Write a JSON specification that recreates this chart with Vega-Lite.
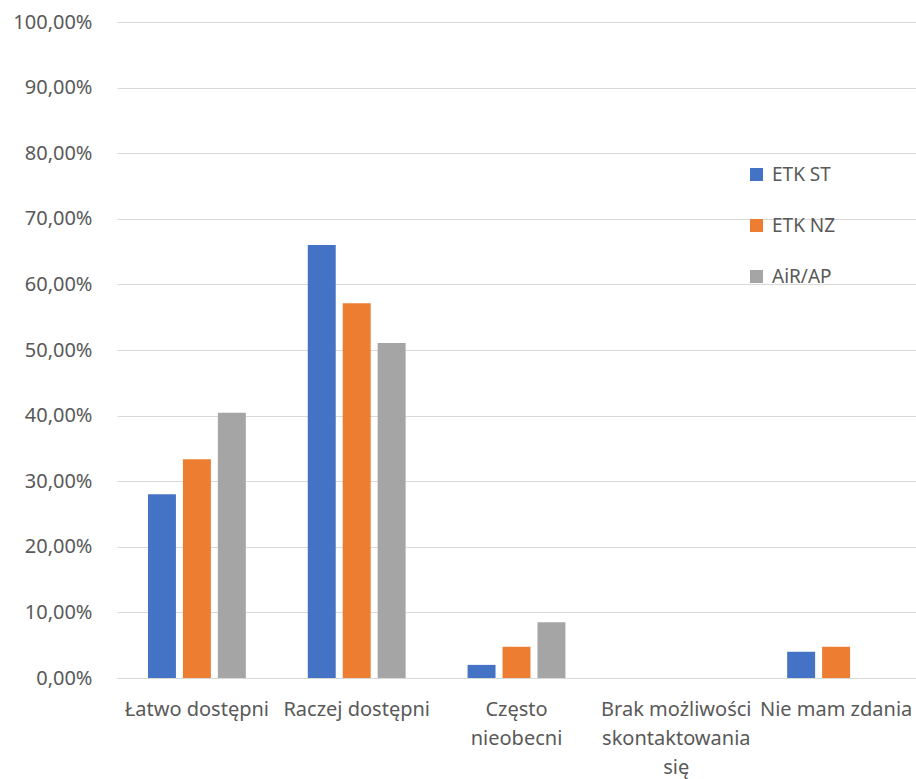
{
  "$schema": "https://vega.github.io/schema/vega-lite/v6.json",
  "width": 799,
  "height": 656,
  "autosize": {"type": "none"},
  "padding": {"left": 117, "top": 22, "right": 0, "bottom": 101},
  "background": "white",
  "data": {
    "values": [
      {"cat": "Łatwo dostępni", "series": "ETK ST", "value": 0.28},
      {"cat": "Łatwo dostępni", "series": "ETK NZ", "value": 0.3333},
      {"cat": "Łatwo dostępni", "series": "AiR/AP", "value": 0.4043},
      {"cat": "Raczej dostępni", "series": "ETK ST", "value": 0.66},
      {"cat": "Raczej dostępni", "series": "ETK NZ", "value": 0.5714},
      {"cat": "Raczej dostępni", "series": "AiR/AP", "value": 0.5106},
      {"cat": "Często nieobecni", "series": "ETK ST", "value": 0.02},
      {"cat": "Często nieobecni", "series": "ETK NZ", "value": 0.0476},
      {"cat": "Często nieobecni", "series": "AiR/AP", "value": 0.0851},
      {"cat": "Brak możliwości skontaktowania się", "series": "ETK ST", "value": 0},
      {"cat": "Brak możliwości skontaktowania się", "series": "ETK NZ", "value": 0},
      {"cat": "Brak możliwości skontaktowania się", "series": "AiR/AP", "value": 0},
      {"cat": "Nie mam zdania", "series": "ETK ST", "value": 0.04},
      {"cat": "Nie mam zdania", "series": "ETK NZ", "value": 0.0476},
      {"cat": "Nie mam zdania", "series": "AiR/AP", "value": 0}
    ]
  },
  "mark": {"type": "bar"},
  "encoding": {
    "x": {
      "field": "cat",
      "type": "nominal",
      "sort": null,
      "scale": {"paddingInner": 0, "paddingOuter": 0},
      "axis": {
        "title": null,
        "labelAngle": 0,
        "labelFont": "Noto Sans",
        "labelFontSize": 20,
        "labelColor": "#595959",
        "labelPadding": 21,
        "labelLimit": 0,
        "labelOverlap": false,
        "labelBound": false,
        "labelLineHeight": 29,
        "labelBaseline": "top",
        "ticks": false,
        "domain": true,
        "domainColor": "#d9d9d9",
        "grid": false,
        "labelExpr": "datum.value == 'Często nieobecni' ? ['Często', 'nieobecni'] : datum.value == 'Brak możliwości skontaktowania się' ? ['Brak możliwości', 'skontaktowania', 'się'] : datum.value"
      }
    },
    "xOffset": {
      "field": "series",
      "type": "nominal",
      "sort": ["ETK ST", "ETK NZ", "AiR/AP"],
      "scale": {"paddingInner": 0.2, "paddingOuter": 0.886}
    },
    "y": {
      "field": "value",
      "type": "quantitative",
      "scale": {"domain": [0, 1], "nice": false},
      "axis": {
        "title": null,
        "values": [0, 0.1, 0.2, 0.3, 0.4, 0.5, 0.6, 0.7, 0.8, 0.9, 1],
        "labelExpr": "replace(format(datum.value, '.2%'), '.', ',')",
        "labelFont": "Noto Sans",
        "labelFontSize": 20,
        "labelColor": "#595959",
        "labelPadding": 25,
        "ticks": false,
        "domain": false,
        "gridColor": "#d9d9d9",
        "gridWidth": 1
      }
    },
    "color": {
      "field": "series",
      "type": "nominal",
      "sort": ["ETK ST", "ETK NZ", "AiR/AP"],
      "scale": {"domain": ["ETK ST", "ETK NZ", "AiR/AP"], "range": ["#4472C4", "#ED7D31", "#A5A5A5"]},
      "legend": {
        "title": null,
        "orient": "none",
        "legendX": 630,
        "legendY": 143,
        "symbolType": "square",
        "symbolSize": 169,
        "symbolStrokeWidth": 0,
        "labelFont": "Noto Sans",
        "labelFontSize": 19,
        "labelColor": "#595959",
        "labelOffset": 6,
        "rowPadding": 31
      }
    }
  },
  "config": {"view": {"stroke": null}}
}
